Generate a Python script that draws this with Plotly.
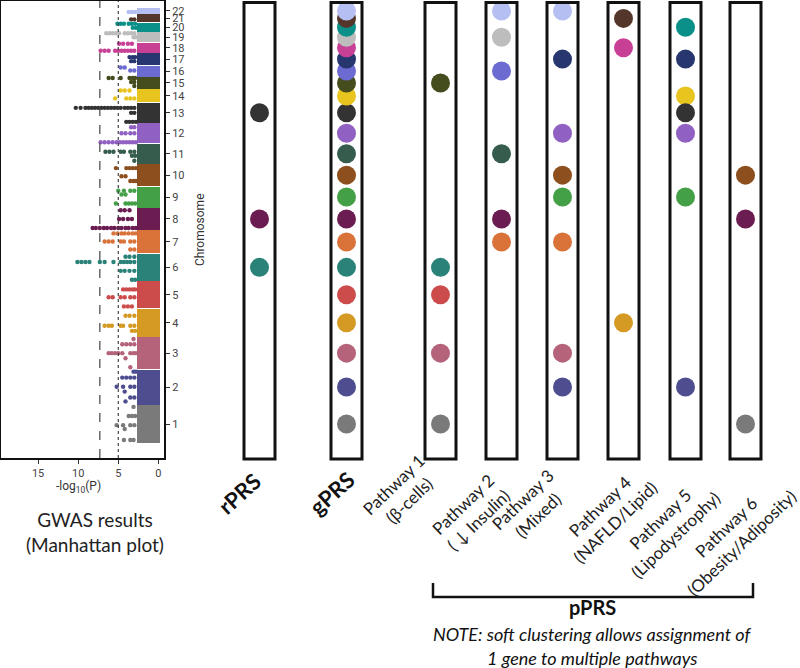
import plotly.graph_objects as go

W, H = 800, 668

# ---------------- data ----------------
chromosomes = list(range(1, 23))
chrom_size = [38, 35, 32, 28, 27, 27, 23, 22, 21, 22, 20, 20, 20, 13, 12, 11, 12, 10, 10, 9, 8, 6]
chrom_colors = ["#7a7a7a", "#4d4d8f", "#b5637a", "#d49a24", "#cc4b4b", "#2a8278", "#d9733a",
                "#6b1d52", "#43a047", "#8c4f1d", "#355c4c", "#9061c2", "#333333", "#e8c41f",
                "#454d1f", "#6b6bd1", "#27366e", "#c83f96", "#bdbdbd", "#0a9088", "#55362a",
                "#b5bff2"]
chrom_gap = 0.43

# (chromosome, relative position along chromosome 0..1, -log10(P) values)
gwas_rows = [
    (22, 0.33, [3.7, 3.3, 2.9]),
    (21, 0.38, [3.4, 3.0]),
    (20, 0.89, [5.1, 4.7, 4.3, 3.7, 3.3, 2.9]),
    (20, 0.44, [3.2, 2.8]),
    (19, 0.90, [6.5, 6.1, 5.7, 5.3, 4.9, 4.2, 3.8, 3.4, 3.0]),
    (19, 0.50, [3.1, 2.8]),
    (18, 0.90, [4.9, 4.4, 3.8, 3.3]),
    (18, 0.20, [7.2, 6.7, 6.2, 5.4, 5.0, 4.6, 4.2, 3.8, 3.4, 3.0]),
    (17, 0.67, [3.6, 3.2, 2.9]),
    (17, 0.33, [3.4, 3.0]),
    (16, 0.82, [4.7, 4.2]),
    (16, 0.55, [3.5, 3.0]),
    (15, 0.92, [6.2, 5.7, 4.7, 3.6, 3.2, 2.9]),
    (15, 0.58, [3.4, 3.0]),
    (15, 0.25, [3.0]),
    (14, 0.92, [4.7, 4.2, 3.6]),
    (14, 0.31, [5.4, 4.0, 3.5, 3.0]),
    (13, 0.75, [10.3, 9.7, 9.1, 8.7, 8.3, 7.9, 7.5, 7.1, 6.7, 6.3, 5.9, 5.5, 5.1, 4.7, 4.2, 3.8, 3.4, 3.0]),
    (13, 0.50, [3.4, 3.0]),
    (13, 0.05, [4.0, 3.6, 3.2, 2.8]),
    (12, 0.80, [3.4, 3.0]),
    (12, 0.50, [4.6, 4.1, 3.5, 3.0]),
    (12, 0.05, [7.2, 6.7, 6.2, 5.7, 5.2, 4.8, 4.4, 4.0, 3.6, 3.2, 2.8]),
    (11, 0.60, [6.6, 6.1, 5.6, 4.7, 4.3, 3.5, 3.0]),
    (11, 0.40, [3.3, 2.9]),
    (11, 0.15, [3.0]),
    (10, 0.82, [5.3, 4.0, 3.6, 3.2, 2.8]),
    (10, 0.45, [4.6, 4.1]),
    (10, 0.23, [3.5, 3.1, 2.8]),
    (9, 0.80, [5.0, 4.3, 3.5, 3.0]),
    (9, 0.62, [4.6, 4.1]),
    (9, 0.19, [5.3, 4.1, 3.7, 3.3, 2.9]),
    (8, 0.90, [4.7, 4.2, 3.6]),
    (8, 0.50, [4.9, 4.4, 3.8, 3.3]),
    (8, 0.09, [8.2, 7.8, 7.3, 6.8, 6.4, 5.9, 5.5, 5.0, 4.6, 4.1, 3.7, 3.2, 2.8]),
    (7, 0.87, [5.6, 5.1, 4.6, 4.2, 3.7, 3.2, 2.8]),
    (7, 0.52, [6.7, 6.2, 5.7, 4.7, 4.3, 3.5, 3.0]),
    (7, 0.17, [3.5, 3.0]),
    (6, 0.89, [4.1, 3.6, 3.0]),
    (6, 0.70, [10.1, 9.6, 9.1, 8.6, 7.3, 6.7, 5.6, 4.7, 4.3, 3.9, 3.5, 3.0]),
    (6, 0.37, [4.7, 4.2, 3.6, 3.0]),
    (6, 0.04, [3.3, 2.9]),
    (5, 0.70, [4.4, 4.0, 3.6, 3.2, 2.9]),
    (5, 0.41, [6.2, 5.7, 4.7, 4.2, 3.5, 3.0]),
    (5, 0.07, [4.3, 3.8, 3.3]),
    (4, 0.75, [4.1, 3.6, 3.0]),
    (4, 0.39, [6.7, 6.2, 5.8, 4.7, 4.4, 3.5, 3.0]),
    (4, 0.21, [3.3, 2.9]),
    (3, 0.94, [3.1]),
    (3, 0.78, [4.5, 4.0, 3.5, 3.0]),
    (3, 0.50, [6.2, 5.8, 5.4, 5.0, 4.5, 3.5, 3.1, 2.8]),
    (3, 0.34, [4.1]),
    (3, 0.06, [3.5]),
    (2, 0.94, [3.1, 2.8]),
    (2, 0.77, [4.5, 4.0, 3.5, 3.0]),
    (2, 0.51, [5.2, 4.4, 3.5, 3.0]),
    (2, 0.37, [4.2]),
    (2, 0.20, [3.5, 3.0]),
    (2, 0.09, [4.1]),
    (1, 0.95, [3.1]),
    (1, 0.71, [3.7, 3.3, 2.9]),
    (1, 0.47, [5.2, 4.4, 3.5, 3.0]),
    (1, 0.37, [4.2]),
    (1, 0.08, [4.3, 3.5, 3.1]),
]

genome_wide_line = 7.3
suggestive_line = 5.0
x_ticks = [15, 10, 5, 0]
bar_start, bar_end = -0.25, 2.65

rprs_chroms = [13, 8, 6]
gprs_chroms = chromosomes
pathway_names = ["Pathway 1<br>(β-cells)", "Pathway 2<br>( ↓ Insulin)", "Pathway 3<br>(Mixed)",
                 "Pathway 4<br>(NAFLD/Lipid)", "Pathway 5<br>(Lipodystrophy)",
                 "Pathway 6<br>(Obesity/Adiposity)"]
pathway_chroms = [
    [15, 6, 5, 3, 1],
    [22, 19, 16, 11, 8, 7],
    [22, 17, 12, 10, 9, 7, 3, 2],
    [21, 18, 4],
    [20, 17, 14, 13, 12, 9, 2],
    [10, 8, 1],
]

# ---------------- derived positions ----------------
starts = []
acc = 0.0
for s in chrom_size:
    starts.append(acc)
    acc += s + chrom_gap
centers = [st + s / 2 for st, s in zip(starts, chrom_size)]


def px(x):
    return x / W


def py(y):
    return 1 - y / H


fig = go.Figure()

# chromosome blocks
fig.add_trace(go.Bar(
    orientation="h", y=centers, x=[bar_end - bar_start] * 22, base=bar_start,
    width=chrom_size, marker=dict(color=chrom_colors, line=dict(width=0)),
    xaxis="x", yaxis="y", hoverinfo="skip"))

# GWAS points
for c in chromosomes:
    xs, ys = [], []
    for chrom, frac, vals in gwas_rows:
        if chrom != c:
            continue
        for v in vals:
            xs.append(v)
            ys.append(starts[c - 1] + frac * chrom_size[c - 1])
    fig.add_trace(go.Scatter(x=xs, y=ys, mode="markers", xaxis="x", yaxis="y",
                             marker=dict(size=4.4, color=chrom_colors[c - 1]),
                             hoverinfo="skip"))

# significance lines
fig.add_shape(type="line", xref="x", yref="y domain", x0=genome_wide_line, x1=genome_wide_line,
              y0=0, y1=1, line=dict(color="#444", width=1.2, dash="dash"))
fig.add_shape(type="line", xref="x", yref="y domain", x0=suggestive_line, x1=suggestive_line,
              y0=0, y1=1, line=dict(color="#444", width=1.2, dash="dot"))

# columns (box pixel extents)
col_boxes = [(244, 275), (331, 362), (425, 456), (486, 517), (547, 578), (608, 639), (670, 701), (730, 761)]
col_members = [rprs_chroms, gprs_chroms] + pathway_chroms
layout_axes = {}
for i, ((x0, x1), members) in enumerate(zip(col_boxes, col_members)):
    ax = f"x{i + 2}"
    layout_axes[f"xaxis{i + 2}"] = dict(domain=[px(x0), px(x1)], range=[-1, 1], visible=False,
                                        anchor="y", fixedrange=True)
    fig.add_shape(type="rect", xref="paper", yref="paper", x0=px(x0), x1=px(x1),
                  y0=py(459), y1=py(2.5), line=dict(color="#111", width=3))
    fig.add_trace(go.Scatter(
        x=[0] * len(members), y=[centers[m - 1] for m in members], mode="markers",
        xaxis=ax, yaxis="y", cliponaxis=False,
        marker=dict(size=19, color=[chrom_colors[m - 1] for m in members], line=dict(width=0)),
        hoverinfo="skip"))

# pPRS bracket
fig.add_shape(type="path", xref="paper", yref="paper",
              path=f"M {px(433)},{py(583)} L {px(433)},{py(597)} L {px(753)},{py(597)} L {px(753)},{py(583)}",
              line=dict(color="#111", width=2.5))

annotations = []


def ann(text, x, y, size, angle=0, bold=False, italic=False, family="Lato", color="#222"):
    t = text
    if bold:
        t = f"<b>{t}</b>"
    if italic:
        t = f"<i>{t}</i>"
    annotations.append(dict(text=t, x=px(x), y=py(y), xref="paper", yref="paper",
                            showarrow=False, textangle=angle, xanchor="center", yanchor="middle",
                            font=dict(family=family, size=size, color=color)))


ann("-log<sub>10</sub>(P)", 78, 487, 12, family="Roboto", color="#333")
ann("Chromosome", 200, 230, 12, angle=-90, family="Roboto", color="#333")
ann("GWAS results<br>(Manhattan plot)", 95, 532, 19)
ann("rPRS", 239, 493, 22, angle=-42, bold=True, color="#111")
ann("gPRS", 331, 493, 22, angle=-42, bold=True, color="#111")
label_centers = [(401, 492), (470, 512), (530, 507), (607, 514), (667, 527), (733, 535)]
for name, (cx, cy) in zip(pathway_names, label_centers):
    ann(name, cx, cy, 17, angle=-44, color="#222")
ann("pPRS", 592, 607, 20, bold=True, color="#111")
ann("NOTE: soft clustering allows assignment of", 592, 634, 18, italic=True, color="#111")
ann("1 gene to multiple pathways", 592, 658, 18, italic=True, color="#111")

fig.update_layout(
    width=W, height=H, margin=dict(l=0, r=0, t=0, b=0),
    paper_bgcolor="white", plot_bgcolor="white", showlegend=False,
    xaxis=dict(domain=[0.0015, px(164)], range=[19.6, -0.7], tickvals=x_ticks,
               ticks="outside", ticklen=4, tickcolor="#333", showline=True, mirror=True,
               linecolor="#111", linewidth=2, showgrid=False, zeroline=False,
               tickfont=dict(family="Roboto", size=11, color="#444"), anchor="y", fixedrange=True),
    yaxis=dict(domain=[py(458), py(1)], range=[-15, 442], tickvals=centers,
               ticktext=[str(c) for c in chromosomes], side="right", ticks="outside",
               ticklen=4, tickcolor="#333", showline=True, mirror=True, linecolor="#111",
               linewidth=2, showgrid=False, zeroline=False,
               tickfont=dict(family="Roboto", size=11, color="#444"), anchor="x", fixedrange=True),
    annotations=annotations,
    bargap=0,
    **layout_axes,
)

fig.write_html("out.html", config={"displayModeBar": False},
               post_script="document.body.style.margin='0px';document.body.style.overflow='hidden';")
